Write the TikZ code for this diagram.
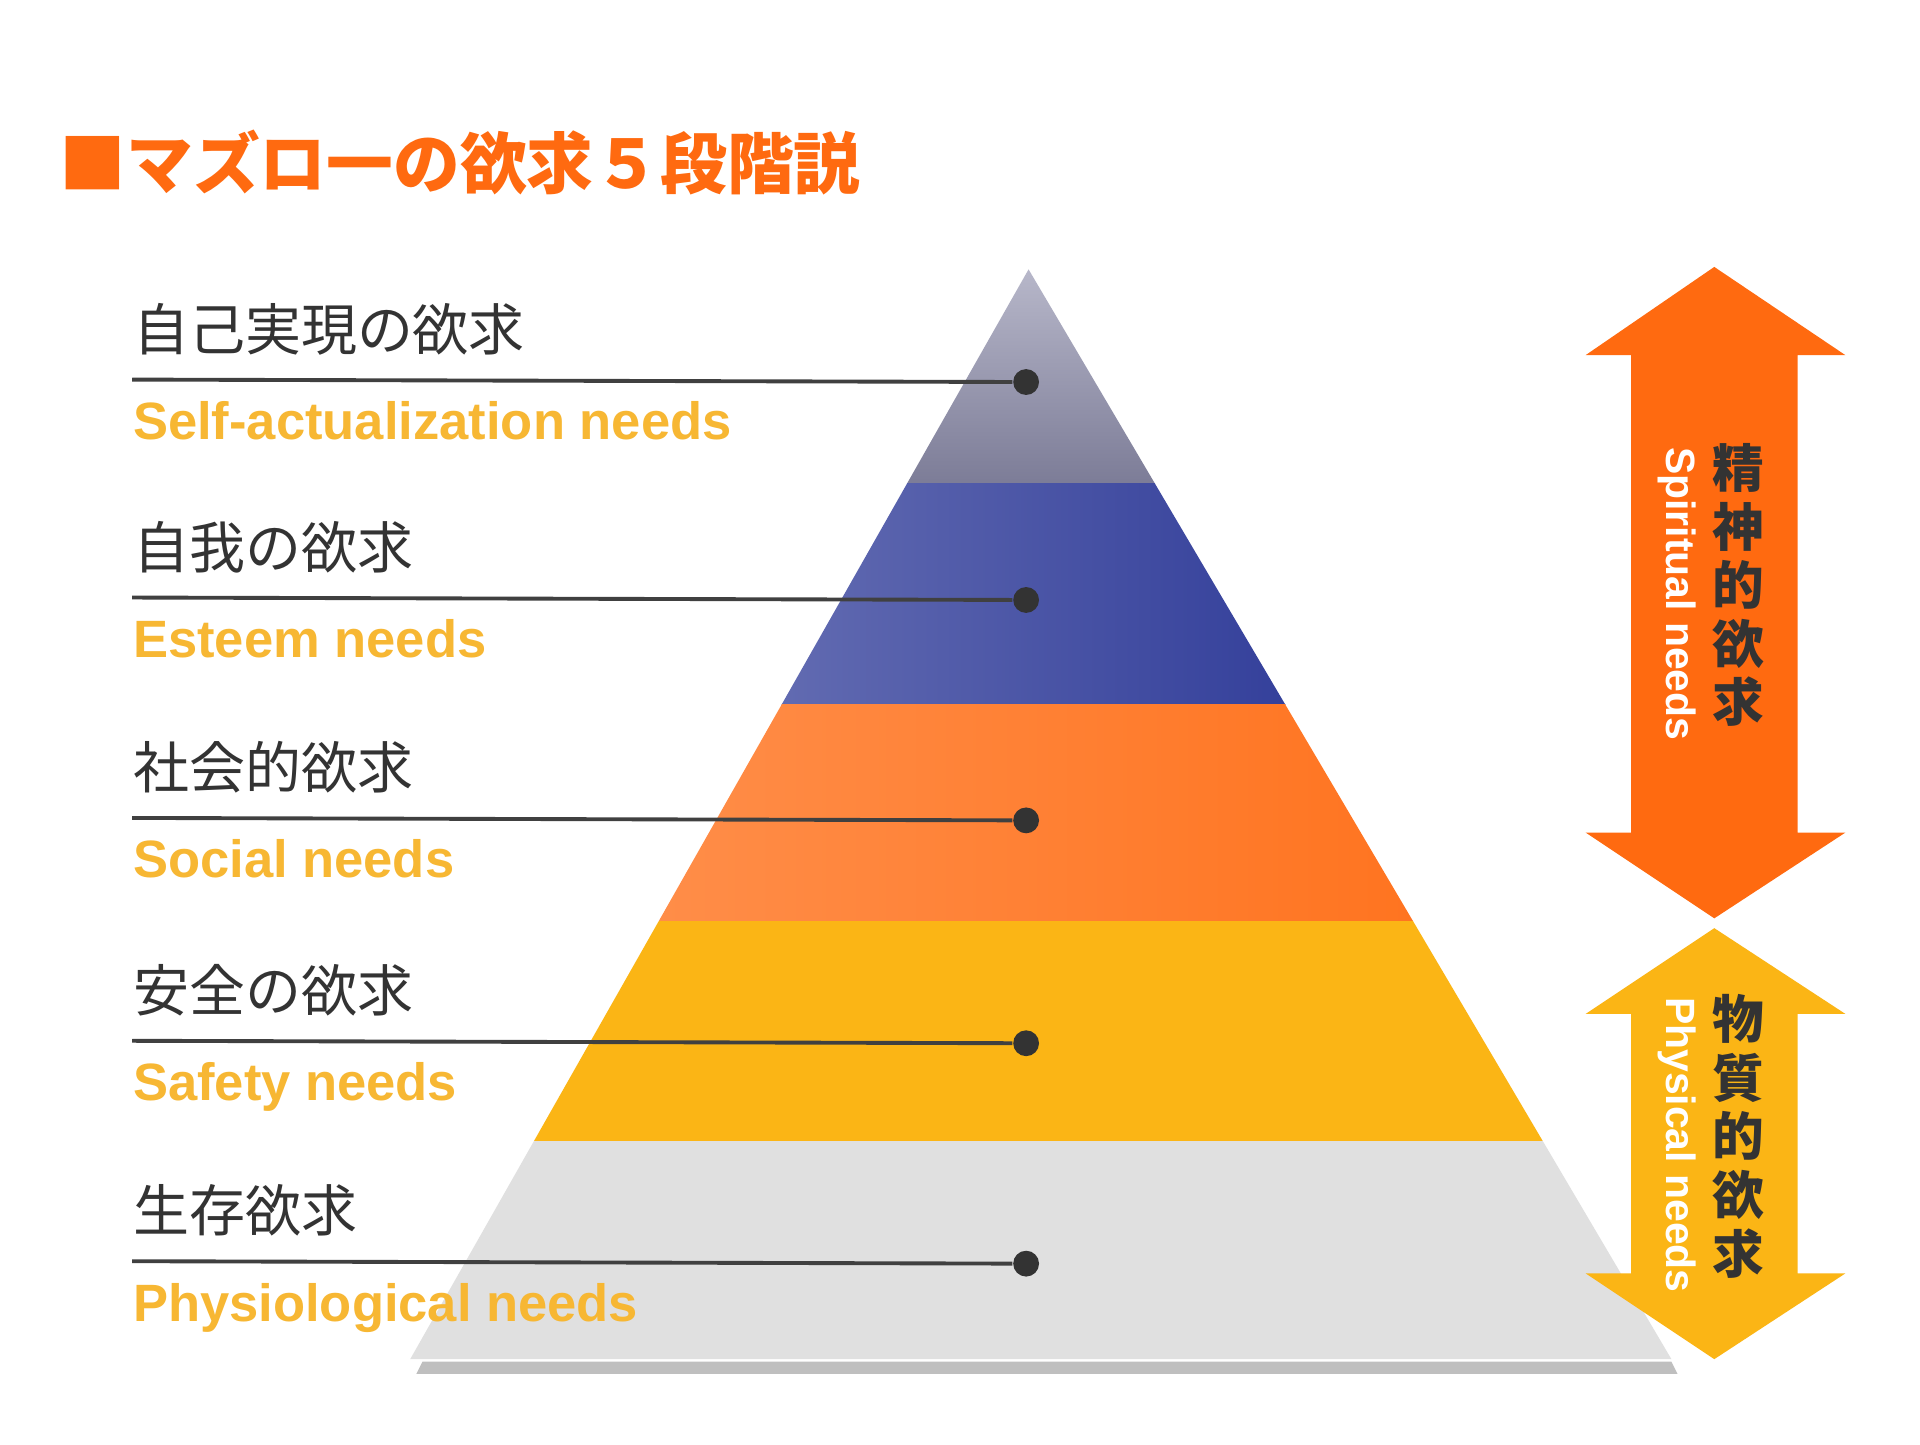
\documentclass[tikz,border=0pt]{standalone}
\usepackage{fontspec}
\setmainfont{Liberation Sans}
\newfontfamily\jpfont{Noto Sans CJK JP}
\usetikzlibrary{arrows.meta}
\definecolor{mzOrange}{HTML}{FF6A10}
\definecolor{mzYellow}{HTML}{FBB515}
\definecolor{mzLabel}{HTML}{F7B733}
\definecolor{mzBlue}{HTML}{0E1C88}
\definecolor{mzLav}{HTML}{8A8AA8}
\definecolor{mzGrey}{HTML}{E0E0E0}
\tikzset{
  jplabel/.style={anchor=base west,inner sep=0pt,font=\jpfont\fontsize{13}{14}\selectfont,text=black!80},
  enlabel/.style={anchor=base west,inner sep=0pt,font=\bfseries\fontsize{12.2}{13}\selectfont,text=mzLabel},
  leader/.style={draw=black!75,line width=0.9pt},
  dotmark/.style={circle,fill=black!80,inner sep=0pt,minimum size=6pt},
  sidejp/.style={font=\jpfont\bfseries\fontsize{12}{13.6}\selectfont,text=black!80,align=center,inner sep=0pt},
  sideen/.style={font=\bfseries\fontsize{9.5}{10}\selectfont,text=white,rotate=-90,inner sep=0pt},
}
\begin{document}
\begin{tikzpicture}[x=0.01cm,y=-0.01cm]
		\useasboundingbox[fill=white] (0,0) rectangle (1568,1180);
        % title
		\node[anchor=base west,inner sep=0pt,font=\jpfont\bfseries\fontsize{15.5}{17}\selectfont,text=mzOrange] (title) at (48,154) {■マズロ一の欲求５段階説};
        % pyramid
		\fill[black!25] (345,1112) -- (1365,1112) -- (1370,1122) -- (340,1122) -- cycle;
		\begin{scope}
			\clip (840,220) -- (1365,1110) -- (335,1110) -- cycle;
			\shade[top color=mzLav!60,bottom color=mzLav!90!black] (300,215) rectangle (1400,395);
			\shade[left color=mzBlue!50,right color=mzBlue] (300,395) rectangle (1400,575);
			\shade[left color=mzOrange!70,right color=mzOrange] (300,575) rectangle (1400,752);
			\fill[mzYellow] (300,752) rectangle (1400,932);
			\fill[mzGrey] (300,932) rectangle (1400,1115);
		\end{scope}
        % levels
		\foreach \name/\y/\jp/\en in {self/272/自己実現の欲求/Self-actualization needs,
				esteem/450/自我の欲求/Esteem needs,
				social/630/社会的欲求/Social needs,
				safety/812/安全の欲求/Safety needs,
				physio/992/生存欲求/Physiological needs} {
			\node[jplabel] (\name-jp) at (108,\y+14) {\jp};
			\node[enlabel] (\name-en) at (108,\y+87) {\en};
			\coordinate (\name-start) at (108,\y+38);
			\node[dotmark] (\name-dot) at (838,\y+40) {};
			\draw[leader] (\name-start) -- (\name-dot);
		}
        % side arrows
		\fill[mzOrange] (1400,218) -- (1507,290) -- (1468,290) -- (1468,680) -- (1507,680) -- (1400,750)
			-- (1295,680) -- (1332,680) -- (1332,290) -- (1295,290) -- cycle;
		\fill[mzYellow] (1400,758) -- (1507,828) -- (1468,828) -- (1468,1040) -- (1507,1040) -- (1400,1110)
			-- (1295,1040) -- (1332,1040) -- (1332,828) -- (1295,828) -- cycle;
		\node[sidejp] (spirit-jp) at (1420,478) {精\\神\\的\\欲\\求};
		\node[sideen] (spirit-en) at (1370,485) {Spiritual needs};
		\node[sidejp] (phys-jp) at (1420,928) {物\\質\\的\\欲\\求};
		\node[sideen] (phys-en) at (1370,935) {Physical needs};
	\end{tikzpicture}
\end{document}
